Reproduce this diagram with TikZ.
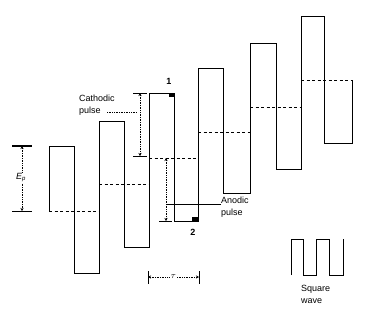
\documentclass[tikz,border=0pt]{standalone}
\usepackage{fontspec}
\setmainfont{Liberation Sans}
\usetikzlibrary{arrows.meta}
\begin{document}
\begin{tikzpicture}[x=1pt,y=-1pt,
  wave/.style={line width=0.8pt},
  midline/.style={line width=0.9pt, dash pattern=on 3pt off 2.5pt},
  dimline/.style={line width=0.7pt, densely dotted, {Stealth[length=3pt,width=3pt]}-{Stealth[length=3pt,width=3pt]}},
  dimbar/.style={line width=0.8pt},
  lbl/.style={font=\fontsize{9}{12}\selectfont, align=left, inner sep=0pt},
  marker/.style={fill=black, draw=none}]
\useasboundingbox (0,0) rectangle (365,311);

% main staircase waveform
\draw[wave] (49,211) -- (49,146) -- (74,146) -- (74,273) -- (99,273) -- (99,121)
  -- (124,121) -- (124,247) -- (149,247) -- (149,93) -- (174,93) -- (174,221)
  -- (198,221) -- (198,68) -- (223,68) -- (223,193) -- (250,193) -- (250,43)
  -- (276,43) -- (276,169) -- (301,169) -- (301,16) -- (324,16) -- (324,143)
  -- (352,143) -- (352,80);

% staircase mid levels
\draw[midline] (49,211) -- (99,211);
\draw[midline] (99,184) -- (149,184);
\draw[midline] (149,158) -- (198,158);
\draw[midline] (198,132) -- (250,132);
\draw[midline] (250,107) -- (301,107);
\draw[midline] (301,80) -- (352,80);

% current sampling markers
\fill[marker] (169,93) rectangle (175,97);
\fill[marker] (192,217) rectangle (199,221);
\node[lbl, font=\fontsize{9}{12}\selectfont\bfseries] (n1) at (169,81) {1};
\node[lbl, font=\fontsize{9}{12}\selectfont\bfseries] (n2) at (193,232) {2};

% E_p dimension
\coordinate (epT) at (22,146);
\coordinate (epB) at (22,211);
\draw[line width=1.6pt] (12,146) -- (32,146);
\draw[dimbar] (12,211) -- (32,211);
\draw[dimline] (epT) -- (epB);
\node[lbl, fill=white, inner sep=0.6pt] (ep) at (21,178) {\textit{E}\textsubscript{\textit{p}}};

% cathodic pulse
\coordinate (caT) at (140,93);
\coordinate (caB) at (140,156);
\draw[dimbar] (133,93) -- (147,93);
\draw[dimbar] (133,156) -- (147,156);
\draw[dimline] (caT) -- (caB);
\node[lbl, anchor=north west] (cath) at (79,95) {Cathodic\\pulse};
\coordinate (caS) at (107,112);
\coordinate (caL) at (137,112);
\draw[line width=0.7pt, densely dotted] (caS) -- (caL);

% anodic pulse
\coordinate (anT) at (166,158);
\coordinate (anB) at (166,221);
\draw[dimbar] (159,221) -- (172,221);
\draw[dimline] (anT) -- (anB);
\node[lbl, anchor=north west] (anod) at (221,197) {Anodic\\pulse};
\coordinate (anL) at (166,204);
\draw[line width=0.8pt] (anL) -- (anod.west |- anL);

% tau dimension
\coordinate (tauL) at (148,277);
\coordinate (tauR) at (199,277);
\draw[dimbar] (148,271) -- (148,284);
\draw[dimbar] (199,271) -- (199,284);
\draw[dimline] (tauL) -- (tauR);
\node[lbl, fill=white, inner sep=0.8pt] (tau) at (173.5,277) {$\tau$};

% square wave inset
\draw[wave] (291,275) -- (291,239) -- (303,239) -- (303,275) -- (316,275) -- (316,239)
  -- (329,239) -- (329,275) -- (343,275) -- (343,239);
\node[lbl, anchor=north west] (sq) at (301,285) {Square\\wave};
\end{tikzpicture}
\end{document}
